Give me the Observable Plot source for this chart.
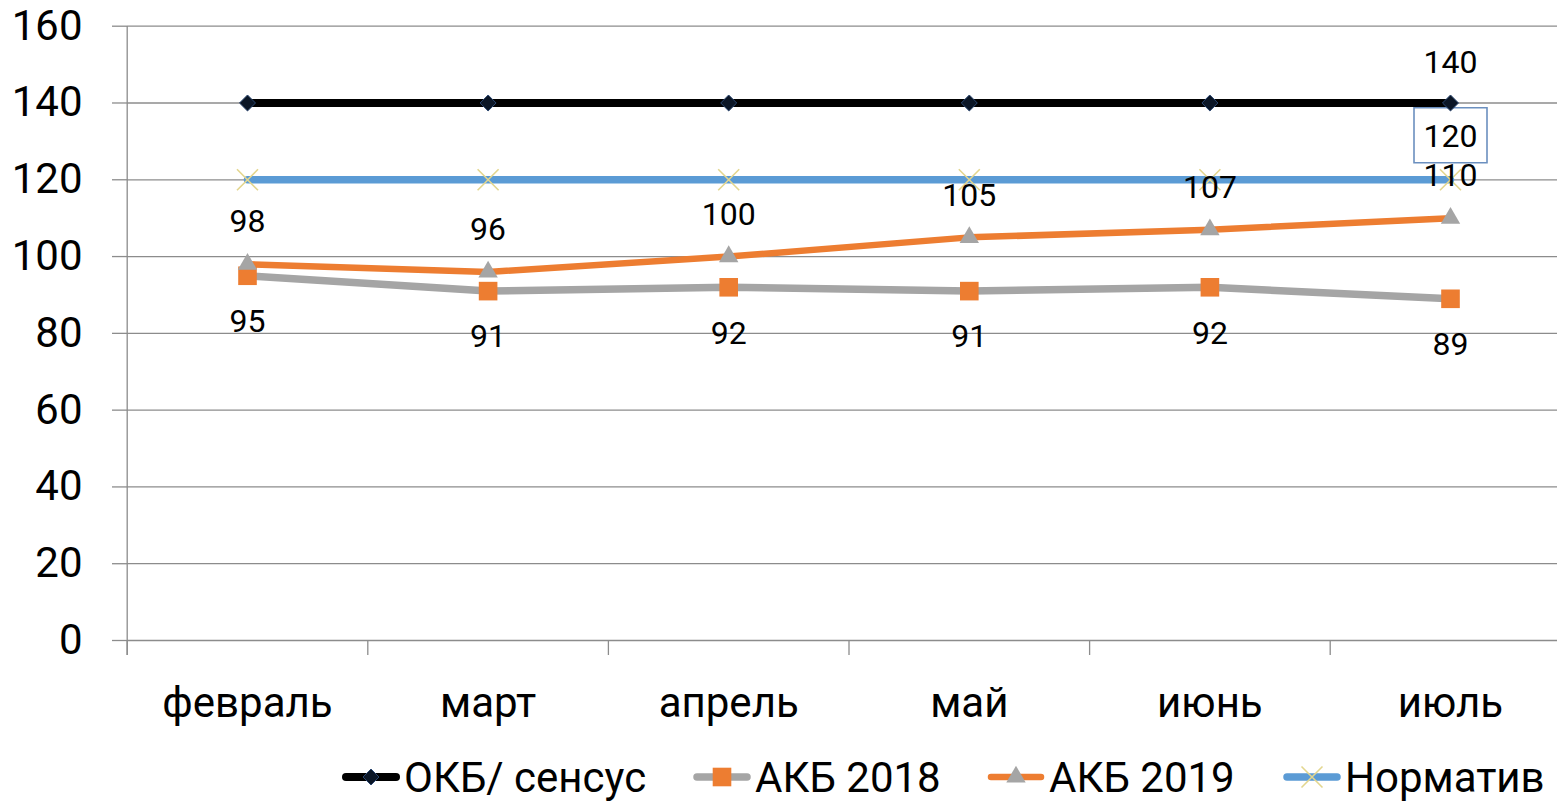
<!DOCTYPE html>
<html>
<head>
<meta charset="utf-8">
<script src="https://cdn.jsdelivr.net/npm/d3@7"></script>
<script src="https://cdn.jsdelivr.net/npm/@observablehq/plot@0.6"></script>
<style>
  body { margin: 0; background: #fff; font-family: Roboto, sans-serif; }
  #legend { position: relative; width: 1557px; height: 59px; }
  .item { position: absolute; top: 0; height: 64px; display: flex; align-items: center; }
  .item svg { display: block; }
  .item span { font-size: 42px; color: #000; margin-left: 4px; white-space: nowrap; }
</style>
</head>
<body>
<div id="chart"></div>
<div id="legend"></div>
<script>
// ---- data ----
const months = ["февраль", "март", "апрель", "май", "июнь", "июль"];
const seriesNames = ["ОКБ/ сенсус", "АКБ 2018", "АКБ 2019", "Норматив"];
const okb = [140, 140, 140, 140, 140, 140];
const akb2018 = [95, 91, 92, 91, 92, 89];
const akb2019 = [98, 96, 100, 105, 107, 110];
const norm = [120, 120, 120, 120, 120, 120];
const yTicks = [0, 20, 40, 60, 80, 100, 120, 140, 160];

// ---- styles ----
const C = {
  okbLine: "#000000", okbMark: "#0b1626", okbMarkStroke: "#2a4670",
  a18Line: "#A5A5A5", a18Mark: "#ED7D31",
  a19Line: "#ED7D31", a19Mark: "#A5A5A5",
  normLine: "#5B9BD5", normMark: "#e3d68e",
  grid: "#8c8c8c", box: "#6b8fbf"
};

const rows = (vals) => vals.map((v, i) => ({i, v}));
const okbData = rows(okb), a18Data = rows(akb2018), a19Data = rows(akb2019), normData = rows(norm);
const catIdx = months.map((_, i) => i);
const bounds = months.map((_, i) => i - 0.5).concat([months.length - 0.5]);

const boxSymbol = { draw(ctx) { ctx.rect(-36.5, -27.5, 73, 55); } };

const chart = Plot.plot({
  width: 1557,
  height: 745,
  marginLeft: 127,
  marginRight: 0,
  marginTop: 26,
  marginBottom: 105,
  style: { fontFamily: "Roboto, sans-serif", background: "#fff", color: "#000", overflow: "hidden" },
  x: { type: "linear", domain: [-0.5, months.length - 0.5], range: [126.7, 1570.3], label: null },
  y: { domain: [0, 160], range: [640, 25.7], label: null },
  marks: [
    Plot.gridY(yTicks, { stroke: C.grid, strokeOpacity: 1, strokeWidth: 1.3 }),
    Plot.axisY(yTicks, { tickSize: 15, tickPadding: 30, fontSize: 42, stroke: C.grid, strokeWidth: 1.3, fill: "#000", label: null }),
    Plot.ruleX([-0.5], { stroke: C.grid, strokeWidth: 1.3, insetBottom: -15 }),
    Plot.axisX(bounds, { tickSize: 15, tickFormat: () => "", stroke: C.grid, strokeWidth: 1.3, label: null }),
    Plot.axisX(catIdx, { tickSize: 0, tickPadding: 47, fontSize: 42, fill: "#000", tickFormat: (i) => months[i], label: null }),

    // Норматив label box (drawn early so markers sit above it)
    Plot.dot(normData, Plot.selectLast({ x: "i", y: "v", symbol: boxSymbol, r: 1, dy: -44.5, fill: "#fff", stroke: C.box, strokeWidth: 1.6 })),

    // ОКБ/ сенсус
    Plot.line(okbData, { x: "i", y: "v", stroke: C.okbLine, strokeWidth: 8, strokeLinecap: "round", strokeLinejoin: "round" }),
    Plot.dot(okbData, { x: "i", y: "v", symbol: "diamond2", r: 7.2, fill: C.okbMark, stroke: C.okbMarkStroke, strokeWidth: 1 }),
    // АКБ 2018
    Plot.line(a18Data, { x: "i", y: "v", stroke: C.a18Line, strokeWidth: 7.5, strokeLinecap: "round", strokeLinejoin: "round" }),
    Plot.dot(a18Data, { x: "i", y: "v", symbol: "square", r: 10.5, fill: C.a18Mark, stroke: "none" }),
    // АКБ 2019
    Plot.line(a19Data, { x: "i", y: "v", stroke: C.a19Line, strokeWidth: 6.5, strokeLinecap: "round", strokeLinejoin: "round" }),
    Plot.dot(a19Data, { x: "i", y: "v", symbol: "triangle", r: 7.2, fill: C.a19Mark, stroke: "none" }),
    // Норматив
    Plot.line(normData, { x: "i", y: "v", stroke: C.normLine, strokeWidth: 7.5, strokeLinecap: "round", strokeLinejoin: "round" }),
    Plot.dot(normData, { x: "i", y: "v", symbol: "times", r: 9.6, fill: "none", stroke: C.normMark, strokeWidth: 1.6 }),

    // data labels
    Plot.text(okbData, Plot.selectLast({ x: "i", y: "v", text: "v", dy: -40, fontSize: 32, fill: "#000" })),
    Plot.text(normData, Plot.selectLast({ x: "i", y: "v", text: "v", dy: -43, fontSize: 32, fill: "#000" })),
    Plot.text(a19Data, { x: "i", y: "v", text: "v", dy: -42, fontSize: 32, fill: "#000" }),
    Plot.text(a18Data, { x: "i", y: "v", text: "v", dy: 46, fontSize: 32, fill: "#000" })
  ]
});
document.getElementById("chart").appendChild(chart);

// ---- legend ----
const legendSpecs = [
  { left: 342, line: C.okbLine, lw: 8, mark: (s) => s.append("path").attr("d", d3.symbol(d3.symbolDiamond2, Math.PI * 7.2 * 7.2)()).attr("fill", C.okbMark).attr("stroke", C.okbMarkStroke) },
  { left: 693, line: C.a18Line, lw: 7.5, mark: (s) => s.append("path").attr("d", d3.symbol(d3.symbolSquare, Math.PI * 10.5 * 10.5)()).attr("fill", C.a18Mark) },
  { left: 987, line: C.a19Line, lw: 6.5, mark: (s) => s.append("path").attr("d", d3.symbol(d3.symbolTriangle, Math.PI * 7.2 * 7.2)()).attr("fill", C.a19Mark) },
  { left: 1283, line: C.normLine, lw: 7.5, mark: (s) => s.append("path").attr("d", d3.symbol(d3.symbolTimes, Math.PI * 9.6 * 9.6)()).attr("fill", "none").attr("stroke", C.normMark).attr("stroke-width", 1.6) }
];
const legend = d3.select("#legend");
seriesNames.forEach((name, k) => {
  const spec = legendSpecs[k];
  const item = legend.append("div").attr("class", "item").style("left", spec.left + "px");
  const svg = item.append("svg").attr("width", 58).attr("height", 28);
  svg.append("line").attr("x1", 4).attr("x2", 54).attr("y1", 14).attr("y2", 14)
    .attr("stroke", spec.line).attr("stroke-width", spec.lw).attr("stroke-linecap", "round");
  const g = svg.append("g").attr("transform", "translate(29,14)");
  spec.mark(g);
  item.append("span").text(name);
});
</script>
</body>
</html>
